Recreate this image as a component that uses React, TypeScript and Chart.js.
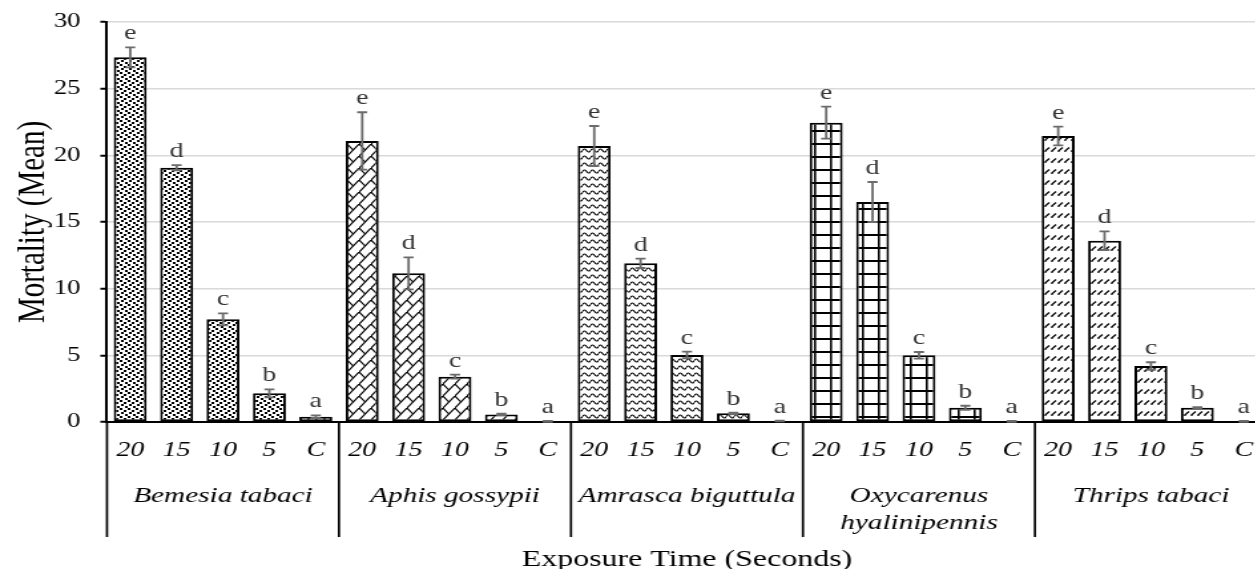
import React, { useEffect, useRef } from "react";
import { Chart, registerables } from "chart.js";

Chart.register(...registerables);

// ---------------- data ----------------
const speciesNames: string[][] = [
  ["Bemesia tabaci"],
  ["Aphis gossypii"],
  ["Amrasca biguttula"],
  ["Oxycarenus", "hyalinipennis"],
  ["Thrips tabaci"],
];
const exposureTimes = ["20", "15", "10", "5", "C"];

const bemesiaMeans = [27.35, 19.07, 7.7, 2.15, 0.4];
const bemesiaErrors = [0.75, 0.2, 0.45, 0.3, 0.1];
const aphisMeans = [21.08, 11.15, 3.4, 0.57, 0.05];
const aphisErrors = [2.15, 1.2, 0.15, 0.05, 0.03];
const amrascaMeans = [20.7, 11.9, 5.03, 0.65, 0.08];
const amrascaErrors = [1.5, 0.35, 0.25, 0.05, 0.03];
const oxycarenusMeans = [22.45, 16.5, 5.0, 1.07, 0.05];
const oxycarenusErrors = [1.2, 1.5, 0.25, 0.15, 0.03];
const thripsMeans = [21.45, 13.6, 4.2, 1.07, 0.05];
const thripsErrors = [0.7, 0.7, 0.28, 0.05, 0.03];

const significanceLetters = ["e", "d", "c", "b", "a"];
const yTickMin = 0;
const yTickMax = 30;
const yTickStep = 5;

const yTitle = "Mortality (Mean)";
const xTitle = "Exposure Time (Seconds)";

// ---------------- derived ----------------
const groupMeans = [bemesiaMeans, aphisMeans, amrascaMeans, oxycarenusMeans, thripsMeans];
const groupErrors = [bemesiaErrors, aphisErrors, amrascaErrors, oxycarenusErrors, thripsErrors];
const allLabels: string[] = [];
const allMeans: number[] = [];
const allErrors: number[] = [];
const allLetters: string[] = [];
const allGroupIdx: number[] = [];
groupMeans.forEach((g, gi) => {
  g.forEach((v, i) => {
    allLabels.push(exposureTimes[i]);
    allMeans.push(v);
    allErrors.push(groupErrors[gi][i]);
    allLetters.push(significanceLetters[i]);
    allGroupIdx.push(gi);
  });
});

const SERIF = '"Liberation Serif", "Times New Roman", serif';
// The figure is horizontally stretched; draw at a narrower size and stretch.
const STRETCH = 1.33;
const CANVAS_W = 970;
const CANVAS_H = 569;

function makePattern(w: number, h: number, draw: (c: CanvasRenderingContext2D) => void) {
  const cv = document.createElement("canvas");
  cv.width = w;
  cv.height = h;
  const c = cv.getContext("2d")!;
  c.fillStyle = "#fff";
  c.fillRect(0, 0, w, h);
  c.fillStyle = "#000";
  c.strokeStyle = "#000";
  draw(c);
  const main = document.createElement("canvas").getContext("2d")!;
  return main.createPattern(cv, "repeat")!;
}

function buildPatterns() {
  const dots = makePattern(6, 8, (c) => {
    c.fillRect(0, 0, 2, 2);
    c.fillRect(3, 2, 2, 2);
    c.fillRect(1, 4, 2, 2);
    c.fillRect(4, 6, 2, 2);
  });
  const brick = makePattern(9, 12, (c) => {
    c.lineWidth = 1.2;
    c.beginPath();
    c.moveTo(-0.75, 13);
    c.lineTo(9.75, -1);
    c.moveTo(0, 0);
    c.lineTo(4.5, 6);
    c.stroke();
  });
  const wave = makePattern(6, 7, (c) => {
    c.lineWidth = 1.2;
    c.beginPath();
    c.moveTo(0, 3.5);
    c.quadraticCurveTo(1.5, 0.5, 3, 3.5);
    c.quadraticCurveTo(4.5, 6.5, 6, 3.5);
    c.stroke();
  });
  const grid = makePattern(12, 13, (c) => {
    c.fillRect(0, 0, 12, 2);
    c.fillRect(0, 0, 1.6, 13);
  });
  const dashes = makePattern(5, 11, (c) => {
    c.lineWidth = 1.2;
    c.beginPath();
    c.moveTo(0.8, 8);
    c.lineTo(4, 4.5);
    c.stroke();
    c.fillRect(0.3, 7.6, 1.2, 1.4);
  });
  return [dots, brick, wave, grid, dashes];
}

const annotationPlugin = {
  id: "annotations",
  afterDatasetsDraw(chart: any) {
    const ctx: CanvasRenderingContext2D = chart.ctx;
    const x = chart.scales.x;
    const y = chart.scales.y;
    ctx.save();
    allMeans.forEach((m, i) => {
      const cx = x.getPixelForValue(i);
      const top = y.getPixelForValue(m + allErrors[i]);
      const bot = y.getPixelForValue(Math.max(0, m - allErrors[i]));
      ctx.strokeStyle = "#6b6b6b";
      ctx.lineWidth = 1.8;
      ctx.beginPath();
      ctx.moveTo(cx, top);
      ctx.lineTo(cx, bot);
      ctx.moveTo(cx - 3.8, top);
      ctx.lineTo(cx + 3.8, top);
      ctx.moveTo(cx - 3.8, bot);
      ctx.lineTo(cx + 3.8, bot);
      ctx.stroke();
      ctx.fillStyle = "#333";
      ctx.font = `21px ${SERIF}`;
      ctx.textAlign = "center";
      ctx.textBaseline = "alphabetic";
      ctx.fillText(allLetters[i], cx, top - 8);
    });
    ctx.restore();
  },
  afterDraw(chart: any) {
    const ctx: CanvasRenderingContext2D = chart.ctx;
    const x = chart.scales.x;
    const area = chart.chartArea;
    ctx.save();
    const nG = speciesNames.length;
    const per = exposureTimes.length;
    const bounds: number[] = [area.left];
    for (let g = 1; g < nG; g++) {
      bounds.push((x.getPixelForValue(g * per - 1) + x.getPixelForValue(g * per)) / 2);
    }
    bounds.push(area.right);
    ctx.strokeStyle = "#000";
    ctx.lineWidth = 1.7;
    ctx.beginPath();
    bounds.forEach((b) => {
      ctx.moveTo(b, area.bottom);
      ctx.lineTo(b, 537);
    });
    ctx.stroke();
    ctx.fillStyle = "#000";
    ctx.font = `italic 22px ${SERIF}`;
    ctx.textAlign = "center";
    ctx.textBaseline = "middle";
    speciesNames.forEach((lines, g) => {
      const cx = (bounds[g] + bounds[g + 1]) / 2;
      lines.forEach((t, li) => {
        ctx.fillText(t, cx, 496 + li * 27);
      });
    });
    ctx.restore();
  },
};

export default function App() {
  const ref = useRef<HTMLCanvasElement | null>(null);
  useEffect(() => {
    if (!ref.current) return;
    const patterns = buildPatterns();
    const chart = new Chart(ref.current, {
      type: "bar",
      data: {
        labels: allLabels,
        datasets: [
          {
            data: allMeans,
            backgroundColor: allGroupIdx.map((g) => patterns[g]) as any,
            borderColor: "#000",
            borderWidth: 2,
            borderSkipped: false,
            barPercentage: 0.71,
            categoryPercentage: 1,
          },
        ],
      },
      options: {
        animation: false,
        responsive: false,
        maintainAspectRatio: false,
        devicePixelRatio: 1,
        layout: { padding: { left: 7.3, right: 17.4, top: 22, bottom: 0 } },
        plugins: { legend: { display: false }, tooltip: { enabled: false } },
        scales: {
          x: {
            grid: { display: false, drawTicks: false },
            border: { display: true, color: "#000", width: 2 },
            ticks: {
              color: "#000",
              font: { family: SERIF, size: 21, style: "italic" },
              padding: 16,
              maxRotation: 0,
              autoSkip: false,
            },
            title: {
              display: true,
              text: xTitle,
              color: "#000",
              font: { family: SERIF, size: 24, lineHeight: 0.45 },
            },
            afterFit: (s: any) => {
              s.height = 147;
            },
          },
          y: {
            min: yTickMin,
            max: yTickMax,
            ticks: {
              stepSize: yTickStep,
              color: "#000",
              font: { family: SERIF, size: 20, lineHeight: 0.5 },
              padding: 15,
            },
            grid: {
              color: "#d9d9d9",
              lineWidth: 1.5,
              tickColor: "#000",
              tickLength: 5,
              tickWidth: 2,
            },
            border: { color: "#000", width: 2 },
            title: {
              display: true,
              text: yTitle,
              color: "#000",
              font: { family: SERIF, size: 29, lineHeight: 1.0 },
            },
            afterFit: (s: any) => {
              s.width = 73.15;
            },
          },
        },
      },
      plugins: [annotationPlugin],
    });
    return () => chart.destroy();
  }, []);
  return (
    <div
      style={{
        position: "absolute",
        left: 0,
        top: 0,
        width: 1255,
        height: 569,
        overflow: "hidden",
        background: "#fff",
      }}
    >
      <canvas
        ref={ref}
        width={CANVAS_W}
        height={CANVAS_H}
        style={{
          display: "block",
          transform: `scaleX(${STRETCH})`,
          transformOrigin: "0 0",
        }}
      />
    </div>
  );
}
